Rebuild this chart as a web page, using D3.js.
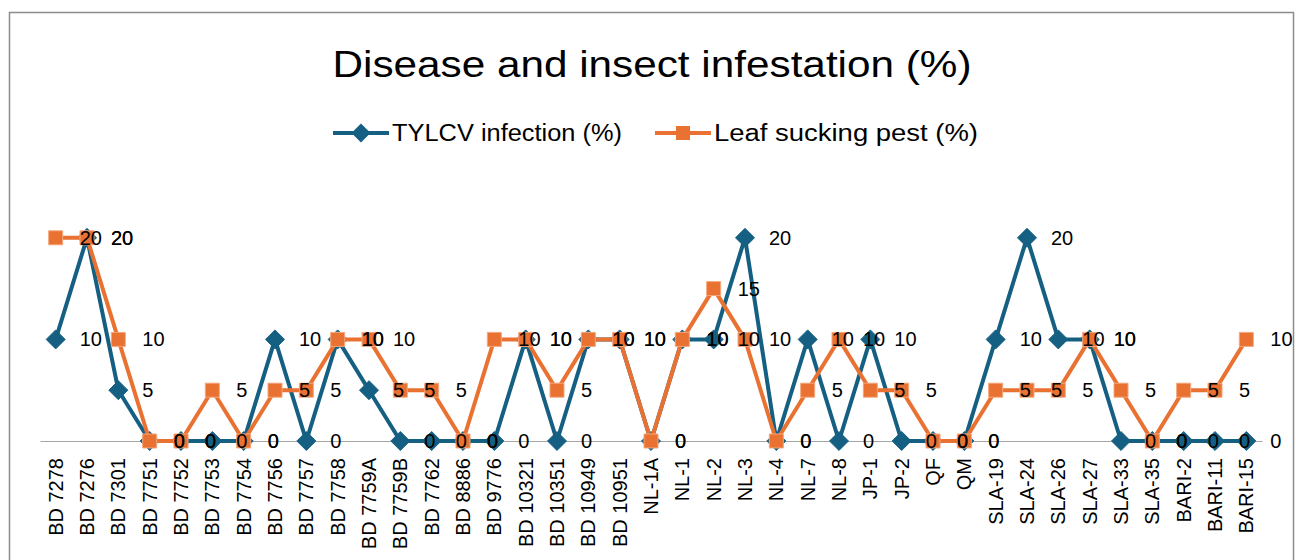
<!DOCTYPE html>
<html>
<head>
<meta charset="utf-8">
<script src="https://cdn.jsdelivr.net/npm/d3@7"></script>
<style>
    body { margin: 0; background: #fff; }
    text { font-family: "Liberation Sans", Arial, sans-serif; fill: #000; }
</style>
</head>
<body>
<svg id="chart"></svg>
<script>
'use strict';

const width = 1296;
const height = 560;

const categories = ['BD 7278', 'BD 7276', 'BD 7301', 'BD 7751', 'BD 7752', 'BD 7753', 'BD 7754', 'BD 7756',
    'BD 7757', 'BD 7758', 'BD 7759A', 'BD 7759B', 'BD 7762', 'BD 8886', 'BD 9776', 'BD 10321', 'BD 10351',
    'BD 10949', 'BD 10951', 'NL-1A', 'NL-1', 'NL-2', 'NL-3', 'NL-4', 'NL-7', 'NL-8', 'JP-1', 'JP-2', 'QF', 'QM',
    'SLA-19', 'SLA-24', 'SLA-26', 'SLA-27', 'SLA-33', 'SLA-35', 'BARI-2', 'BARI-11', 'BARI-15'];

const tylcv = [10, 20, 5, 0, 0, 0, 0, 10, 0, 10, 5, 0, 0, 0, 0, 10, 0, 10, 10, 0, 10, 10, 20, 0, 10, 0, 10, 0,
    0, 0, 10, 20, 10, 10, 0, 0, 0, 0, 0];

const leafPest = [20, 20, 10, 0, 0, 5, 0, 5, 5, 10, 10, 5, 5, 0, 10, 10, 5, 10, 10, 0, 10, 15, 10, 0, 5, 10, 5,
    5, 0, 0, 5, 5, 5, 10, 5, 0, 5, 5, 10];

const seriesNames = ['TYLCV infection (%)', 'Leaf sucking pest (%)'];
const colors = ['#156082', '#E97132'];

const plot = {left: 40, right: 1262, top: 187, bottom: 441};

const svg = d3.select('#chart')
    .attr('width', width)
    .attr('height', height);

// chart frame
svg.append('rect')
    .attr('x', 9.5)
    .attr('y', 12.5)
    .attr('width', 1284)
    .attr('height', 600)
    .attr('fill', 'none')
    .attr('stroke', '#8c8c8c')
    .attr('stroke-width', 1.5);

svg.append('text')
    .attr('x', 652)
    .attr('y', 77)
    .attr('text-anchor', 'middle')
    .attr('font-size', 37)
    .attr('textLength', 639)
    .attr('lengthAdjust', 'spacingAndGlyphs')
    .text('Disease and insect infestation (%)');

const x = d3.scaleBand()
    .domain(categories)
    .range([plot.left, plot.right]);

const y = d3.scaleLinear()
    .domain([0, 25])
    .range([plot.bottom, plot.top]);

const xAxis = d3.axisBottom(x).tickSize(0);

const gx = svg.append('g')
    .attr('transform', `translate(0, ${plot.bottom})`)
    .call(xAxis);

gx.select('.domain').attr('stroke', '#a6a6a6').attr('stroke-width', 1.2);
gx.selectAll('text')
    .attr('font-size', 20)
    .attr('fill', '#000')
    .attr('text-anchor', 'end')
    .attr('dy', '0.35em')
    .attr('transform', 'rotate(-90)')
    .attr('x', -17)
    .attr('y', 0);

const line = d3.line()
    .x((d, i) => x(categories[i]) + x.bandwidth() / 2)
    .y(d => y(d));

const diamond = d3.symbol().type(d3.symbolDiamond2).size(230);
const square = d3.symbol().type(d3.symbolSquare2).size(250);

[tylcv, leafPest].forEach((values, s) => {
    const g = svg.append('g');

    g.append('path')
        .datum(values)
        .attr('d', line)
        .attr('fill', 'none')
        .attr('stroke', colors[s])
        .attr('stroke-width', 4)
        .attr('stroke-linejoin', 'round');

    g.selectAll('path.marker')
        .data(values)
        .enter()
        .append('path')
        .attr('class', 'marker')
        .attr('d', s === 0 ? diamond : square)
        .attr('transform', (d, i) => `translate(${x(categories[i]) + x.bandwidth() / 2}, ${y(d)})`)
        .attr('fill', colors[s])
        .attr('stroke', s === 0 ? colors[s] : '#f4a77c')
        .attr('stroke-width', 1);
});

// data labels, to the right of each point
[tylcv, leafPest].forEach(values => {
    svg.append('g')
        .selectAll('text')
        .data(values)
        .enter()
        .append('text')
        .attr('x', (d, i) => x(categories[i]) + x.bandwidth() / 2 + 24)
        .attr('y', d => y(d))
        .attr('dy', '0.35em')
        .attr('font-size', 20)
        .text(d => d);
});

// legend
const legendItems = [
    {x: 333, textX: 392, textLength: 230},
    {x: 655, textX: 714, textLength: 264}
];

legendItems.forEach((item, s) => {
    const g = svg.append('g');
    g.append('line')
        .attr('x1', item.x)
        .attr('x2', item.x + 56)
        .attr('y1', 133)
        .attr('y2', 133)
        .attr('stroke', colors[s])
        .attr('stroke-width', 4);
    g.append('path')
        .attr('d', s === 0 ? diamond : square)
        .attr('transform', `translate(${item.x + 28}, 133)`)
        .attr('fill', colors[s]);
    g.append('text')
        .attr('x', item.textX)
        .attr('y', 133)
        .attr('dy', '0.35em')
        .attr('font-size', 23)
        .attr('textLength', item.textLength)
        .attr('lengthAdjust', 'spacingAndGlyphs')
        .text(seriesNames[s]);
});
</script>
</body>
</html>
